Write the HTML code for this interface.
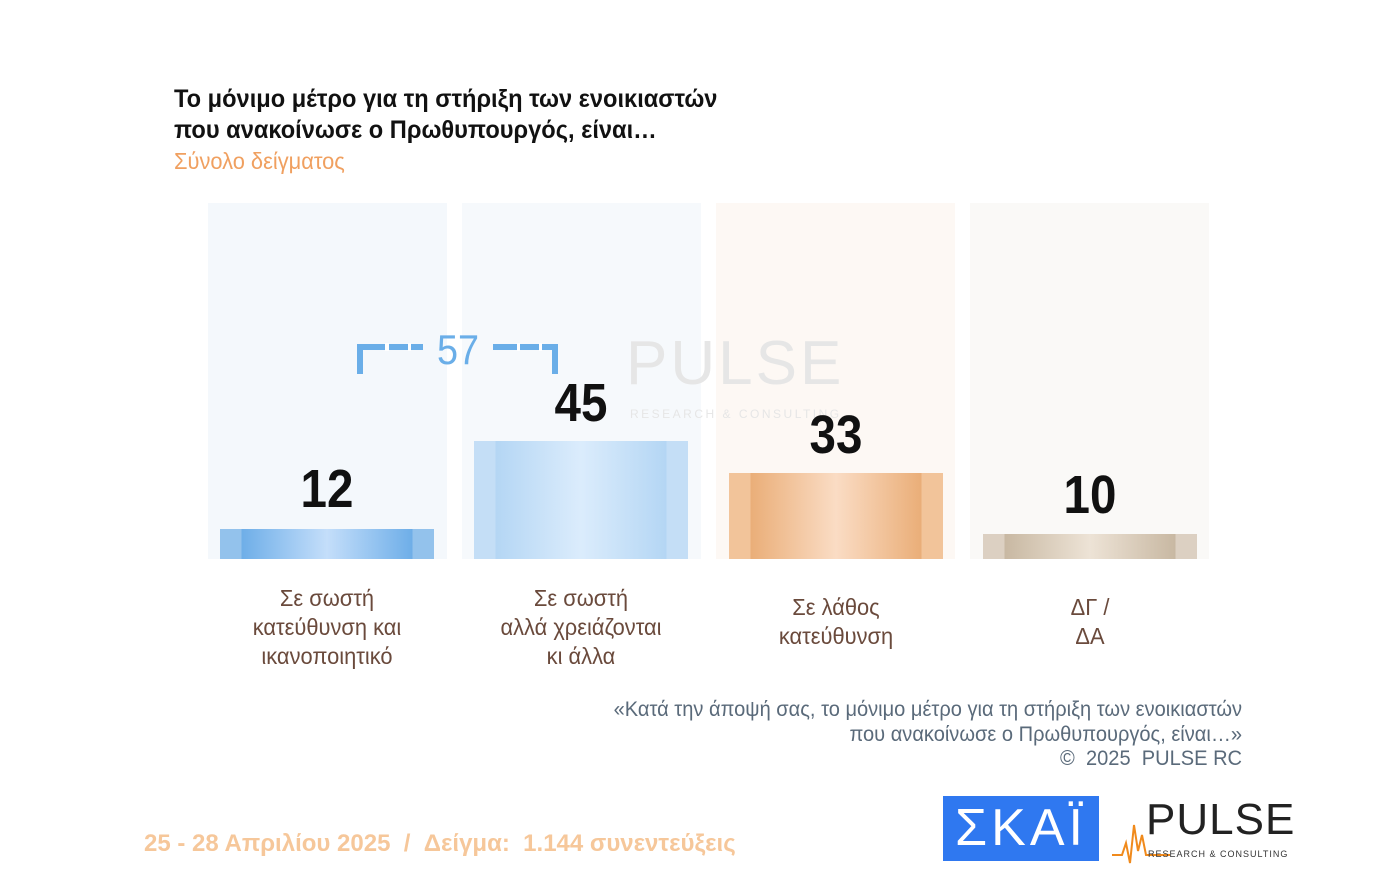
<!DOCTYPE html>
<html><head><meta charset="utf-8"><style>
body{margin:0;width:1390px;height:885px;background:#fff;position:relative;overflow:hidden;font-family:"Liberation Sans",sans-serif}
.a{position:absolute}
.t{left:174px;top:84px;font-size:25px;font-weight:bold;line-height:31px;color:#111;transform:scaleX(0.945);transform-origin:0 0;white-space:nowrap}
.sub{left:174px;top:148px;font-size:23px;color:#f0a060;transform:scaleX(0.95);transform-origin:0 0}
.bg{top:203px;width:239px;height:356px}
.bar{width:214px}
.n{font-size:54px;font-weight:bold;color:#111;width:214px;text-align:center;transform:scaleX(0.88)}
.lab{width:260px;text-align:center;font-size:23px;line-height:29px;color:#6a4a3c;transform:scaleX(0.95)}
.note{right:148px;top:698px;text-align:right;font-size:21px;line-height:24.5px;color:#5a6a7a;transform:scaleX(0.955);transform-origin:100% 0;white-space:nowrap}
</style></head><body>
<div class="a t">Το μόνιμο μέτρο για τη στήριξη των ενοικιαστών<br>που ανακοίνωσε ο Πρωθυπουργός, είναι…</div>
<div class="a sub">Σύνολο δείγματος</div>

<div class="a bg" style="left:208px;background:#f4f8fc"></div>
<div class="a bg" style="left:462px;background:#f6f9fc"></div>
<div class="a bg" style="left:716px;background:#fdf8f4"></div>
<div class="a bg" style="left:970px;background:#faf9f7"></div>

<div class="a" style="left:626px;top:328px;font-size:62px;color:#e6e6e6;letter-spacing:3px">PULSE</div>
<div class="a" style="left:630px;top:407px;font-size:12px;color:#e6e6e6;letter-spacing:2.5px">RESEARCH &amp; CONSULTING</div>

<div class="a bar" style="left:220px;top:529px;height:30px;background:linear-gradient(90deg,#93c2ec 0,#93c2ec 10%,#6eaee8 10%,#c4defa 50%,#6eaee8 90%,#93c2ec 90%)"></div>
<div class="a bar" style="left:474px;top:441px;height:118px;background:linear-gradient(90deg,#c4def6 0,#c4def6 10%,#b4d6f4 10%,#dbecfc 50%,#b4d6f4 90%,#c4def6 90%)"></div>
<div class="a bar" style="left:729px;top:473px;height:86px;background:linear-gradient(90deg,#f2c49a 0,#f2c49a 10%,#eaae78 10%,#fadcc4 50%,#eaae78 90%,#f2c49a 90%)"></div>
<div class="a bar" style="left:983px;top:534px;height:25px;background:linear-gradient(90deg,#dcd0c2 0,#dcd0c2 10%,#c8b8a2 10%,#ede3d6 50%,#c8b8a2 90%,#dcd0c2 90%)"></div>

<div class="a n" style="left:220px;top:458px">12</div>
<div class="a n" style="left:474px;top:372px">45</div>
<div class="a n" style="left:729px;top:404px">33</div>
<div class="a n" style="left:983px;top:464px">10</div>

<svg class="a" style="left:355px;top:330px" width="210" height="50">
<path d="M5 44V17H68M138 17H200V44" fill="none" stroke="#6aaee8" stroke-width="6"/>
<path d="M30 17H34M53 17H56M162 17H165M184 17H187" stroke="#fff" stroke-width="8"/>
<text x="103" y="34" text-anchor="middle" font-size="42" fill="#6aaee8" font-family="Liberation Sans,sans-serif" transform="translate(103 0) scale(0.9 1) translate(-103 0)">57</text>
</svg>

<div class="a lab" style="left:197px;top:584px">Σε σωστή<br>κατεύθυνση και<br>ικανοποιητικό</div>
<div class="a lab" style="left:451px;top:584px">Σε σωστή<br>αλλά χρειάζονται<br>κι άλλα</div>
<div class="a lab" style="left:706px;top:593px">Σε λάθος<br>κατεύθυνση</div>
<div class="a lab" style="left:960px;top:593px">ΔΓ /<br>ΔΑ</div>

<div class="a note">«Κατά την άποψή σας, το μόνιμο μέτρο για τη στήριξη των ενοικιαστών<br>που ανακοίνωσε ο Πρωθυπουργός, είναι…»<br>©&nbsp; 2025&nbsp; PULSE RC</div>

<div class="a" style="left:144px;top:830px;font-size:24px;font-weight:bold;color:#f6c79a">25 - 28 Απριλίου 2025&nbsp; / &nbsp;Δείγμα:&nbsp; 1.144 συνεντεύξεις</div>

<div class="a" style="left:943px;top:796px;width:156px;height:65px;background:#2f78f0;color:#fff;font-size:52px;line-height:65px;text-align:center;letter-spacing:4px">ΣΚΑΪ</div>
<svg class="a" style="left:1110px;top:805px" width="60" height="60"><path d="M2 50H12L16 38L20 58L24 20L28 46L32 30L36 50H60" fill="none" stroke="#f08a1c" stroke-width="2"/></svg>
<div class="a" style="left:1146px;top:795px;font-size:44px;color:#222;letter-spacing:1px">PULSE</div>
<div class="a" style="left:1148px;top:849px;font-size:9px;color:#333;letter-spacing:1px">RESEARCH &amp; CONSULTING</div>
</body></html>
